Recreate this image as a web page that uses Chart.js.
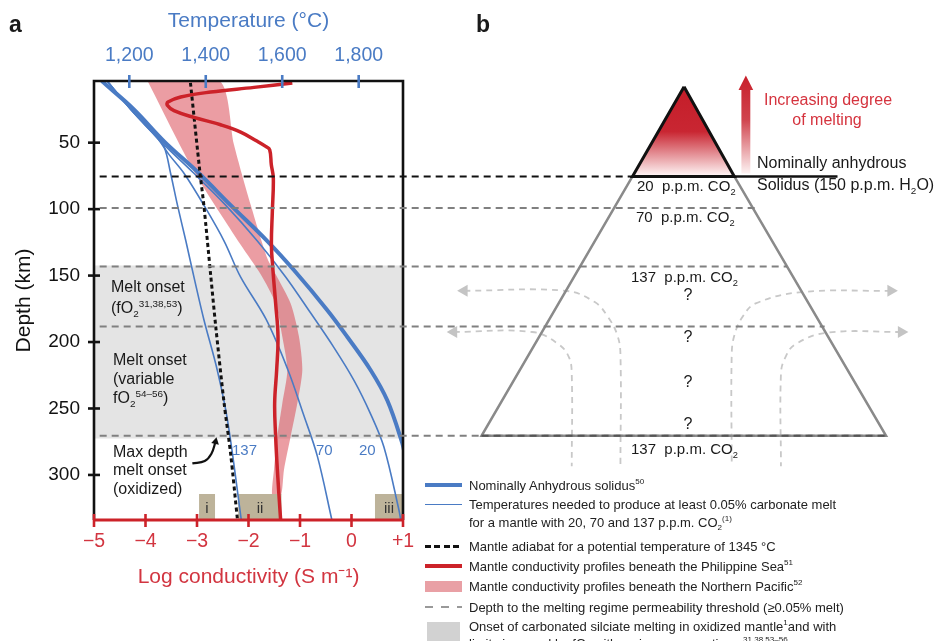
<!DOCTYPE html>
<html>
<head>
<meta charset="utf-8">
<script src="https://cdn.jsdelivr.net/npm/chart.js@4"></script>
<style>
body{margin:0;background:#fff;}
#wrap{position:relative;width:936px;height:641px;overflow:hidden;font-family:"Liberation Sans",Arial,Helvetica,sans-serif;color:#1a1a1a;}
canvas{position:absolute;left:0;top:0;}
.t{position:absolute;white-space:nowrap;transform:translateY(-50%);line-height:1;}
.c{transform:translate(-50%,-50%);}
.a{font-size:16px;}
.p{font-size:15px;}
.lg{font-size:13px;left:469px;color:#222;}
.sw{position:absolute;left:425px;width:37px;}
sup,sub{font-size:0.62em;line-height:0;}
</style>
</head>
<body>
<div id="wrap">
<canvas id="chartA" width="936" height="641"></canvas>
<canvas id="chartB" width="936" height="641"></canvas>

<div class="t" style="left:9px;top:24px;font-size:23px;font-weight:bold;">a</div>
<div class="t" style="left:476px;top:24px;font-size:23px;font-weight:bold;">b</div>

<!-- panel a annotations -->
<div class="t a" style="left:111px;top:287px;">Melt onset</div>
<div class="t a" style="left:111px;top:308px;">(fO<sub>2</sub><sup>31,38,53</sup>)</div>
<div class="t a" style="left:113px;top:360px;">Melt onset</div>
<div class="t a" style="left:113px;top:379px;">(variable</div>
<div class="t a" style="left:113px;top:398px;">fO<sub>2</sub><sup>54–56</sup>)</div>
<div class="t a" style="left:113px;top:452px;">Max depth</div>
<div class="t a" style="left:113px;top:470px;">melt onset</div>
<div class="t a" style="left:113px;top:489px;">(oxidized)</div>
<div class="t p" style="left:232px;top:449px;color:#4a7bc4;">137</div>
<div class="t p" style="left:316px;top:449px;color:#4a7bc4;">70</div>
<div class="t p" style="left:359px;top:449px;color:#4a7bc4;">20</div>
<div class="t c p" style="left:207px;top:507px;color:#333;">i</div>
<div class="t c p" style="left:260px;top:507px;color:#333;">ii</div>
<div class="t c p" style="left:389px;top:507px;color:#333;">iii</div>

<!-- panel b annotations -->
<div class="t c a" style="left:828px;top:100px;color:#d5333e;">Increasing degree</div>
<div class="t c a" style="left:827px;top:120px;color:#d5333e;">of melting</div>
<div class="t a" style="left:757px;top:163px;">Nominally anhydrous</div>
<div class="t a" style="left:757px;top:185px;">Solidus (150 p.p.m. H<sub>2</sub>O)</div>
<div class="t p" style="left:637px;top:185px;">20&nbsp; p.p.m. CO<sub>2</sub></div>
<div class="t p" style="left:636px;top:216px;">70&nbsp; p.p.m. CO<sub>2</sub></div>
<div class="t p" style="left:631px;top:276px;">137&nbsp; p.p.m. CO<sub>2</sub></div>
<div class="t c a" style="left:688px;top:295px;">?</div>
<div class="t c a" style="left:688px;top:337px;">?</div>
<div class="t c a" style="left:688px;top:382px;">?</div>
<div class="t c a" style="left:688px;top:424px;">?</div>
<div class="t p" style="left:631px;top:448px;">137&nbsp; p.p.m. CO<sub>2</sub></div>

<!-- legend -->
<div class="sw" style="top:483px;height:4px;background:#4a7bc4;"></div>
<div class="sw" style="top:503.5px;height:1.6px;background:#4a7bc4;"></div>
<div class="sw" style="top:544.5px;height:3px;background:repeating-linear-gradient(90deg,#111 0 6px,transparent 6px 9.5px);"></div>
<div class="sw" style="top:564px;height:4px;background:#cc2229;"></div>
<div class="sw" style="top:580.5px;height:11.5px;background:#e9a0a5;"></div>
<div class="sw" style="top:606px;height:1.6px;background:repeating-linear-gradient(90deg,#999 0 8px,transparent 8px 16px);"></div>
<div class="sw" style="top:621.5px;height:25px;left:427px;width:33px;background:#d2d2d2;"></div>
<div class="t lg" style="top:485px;">Nominally Anhydrous solidus<sup>50</sup></div>
<div class="t lg" style="top:504px;">Temperatures needed to produce at least 0.05% carbonate melt</div>
<div class="t lg" style="top:522px;">for a mantle with 20, 70 and 137 p.p.m. CO<sub>2</sub><sup>(1)</sup></div>
<div class="t lg" style="top:545.5px;">Mantle adiabat for a potential temperature of 1345 °C</div>
<div class="t lg" style="top:566px;">Mantle conductivity profiles beneath the Philippine Sea<sup>51</sup></div>
<div class="t lg" style="top:586px;">Mantle conductivity profiles beneath the Northern Pacific<sup>52</sup></div>
<div class="t lg" style="top:606.5px;">Depth to the melting regime permeability threshold (≥0.05% melt)</div>
<div class="t lg" style="top:626px;">Onset of carbonated silciate melting in oxidized mantle<sup>1</sup>and with</div>
<div class="t lg" style="top:643px;">limits imposed by fO<sub>2</sub> with various assumptions <sup>31,38,53–56</sup></div>
</div>

<script>
// axis ticks
const depthTicks = [50, 100, 150, 200, 250, 300];
const tempTicks = [1200, 1400, 1600, 1800];
const tempTickLabels = ['1,200', '1,400', '1,600', '1,800'];
const condTicks = [-5, -4, -3, -2, -1, 0, 1];
const condTickLabels = ['\u22125', '\u22124', '\u22123', '\u22122', '\u22121', '0', '+1'];

// panel a: temperatures (°C) vs depth (km)
const solidusTemp = [1128, 1212, 1291, 1382, 1465, 1561, 1631, 1718, 1770, 1831, 1875, 1914, 1921];
const solidusDepth = [3.6, 25, 49, 73, 97, 124, 146, 176, 196, 221, 244, 276, 285];
const co2_20Temp = [1142, 1204, 1282, 1369, 1452, 1535, 1609, 1674, 1735, 1788, 1831, 1866, 1905, 1910];
const co2_20Depth = [3.6, 25, 49, 73, 97, 124, 151, 178, 204, 229, 254, 279, 326, 334];
const co2_70Temp = [1142, 1204, 1273, 1304, 1343, 1395, 1448, 1491, 1558, 1615, 1655, 1692, 1730];
const co2_70Depth = [3.6, 25, 46.5, 59, 73, 97, 124, 151, 183, 221, 254, 286, 334];
const co2_137Temp = [1142, 1204, 1269, 1291, 1308, 1326, 1348, 1369, 1395, 1430, 1457, 1493];
const co2_137Depth = [3.6, 25, 45, 53, 73, 97, 124, 151, 183, 221, 259, 334];
const adiabatTemp = [1360, 1385, 1395, 1413, 1426, 1448, 1465, 1483];
const adiabatDepth = [5, 73, 97, 150, 188, 246, 284, 334];

// panel a: log conductivity vs depth
const philCond = [-1.149, -1.893, -2.735, -3.317, -3.563, -3.576, -3.447, -3.058, -2.541, -2.152, -1.829, -1.667, -1.589, -1.557, -1.518, -1.537, -1.555, -1.525, -1.473, -1.427, -1.453, -1.492, -1.473, -1.440, -1.376];
const philDepth = [5.1, 8.4, 11.9, 15.6, 19.4, 21.9, 25.9, 31.0, 36.5, 42.0, 49.0, 52.8, 55.3, 66.6, 76.6, 101.7, 126.8, 146, 171, 196, 221, 246, 271, 296, 334];
const pacLeftCond = [-3.96, -3.058, -2.152, -1.764, -1.473, -1.343, -1.246, -1.343, -1.440, -1.505, -1.537];
const pacLeftDepth = [3.6, 71.6, 126.8, 149, 171, 196, 221, 246, 271, 296, 316];
const pacRightCond = [-2.56, -2.282, -1.958, -1.635, -1.473, -1.182, -1.020, -0.955, -1.052, -1.182, -1.311, -1.376];
const pacRightDepth = [3.6, 51.5, 96.7, 137, 149, 171, 196, 221, 246, 271, 296, 316];
const meltOnsetDepth = [142.4, 272.5];
const boxCondLeft = [-2.96, -2.20, 0.456];
const boxCondRight = [-2.65, -1.36, 1];
const boxDepthTop = 314.3;
const pointerCond = [-3.09, -2.85, -2.72, -2.64];
const pointerDepth = [291.3, 289.5, 284, 275];

// panel b: schematic (horizontal units from ridge axis, depth km)
const thresholdDepths = [73, 97.4, 142.4, 188.5, 272.5];
const thresholdEndX = [-39.4, 54.7, 78.6, 107.4, 154.3];
const thresholdStartX = -446.4;
const meltTriX = [0, -39.4, 38.4, 0];
const meltTriDepth = [4.1, 73, 73, 4.1];
const regimeX = [-39.4, -154.7, 154.3, 38.4];
const regimeDepth = [73, 272.5, 272.5, 73];
const solidusLineX = [38.4, 117.2];
const arrowX = [43.8, 43.8, 41.6, 47.2, 52.8, 50.6, 50.6, 43.8];
const arrowDepth = [70.7, 6.6, 6.6, -4.7, 6.6, 6.6, 70.7, 70.7];
const flowUL_X = [-168, -90.7, -68.2, -58.2, -51, -48.6, -48.6];
const flowUL_D = [161, 161, 169.7, 181, 195, 210, 296];
const flowLL_X = [-176, -116, -96, -88, -85.8, -85.8];
const flowLL_D = [192.7, 192.7, 202, 212, 225, 296];
const flowUR_X = [158, 89.8, 54.7, 44.7, 38.5, 36.4, 36.4];
const flowUR_D = [161, 162, 170.7, 181, 195, 210, 296];
const flowLR_X = [166, 109.6, 84.8, 77, 74, 74];
const flowLR_D = [192.7, 193.2, 202.3, 213, 225, 296];

const BLUE = '#4a7bc4';
const RED = '#cc2229';
const RED_TXT = '#d23540';

const xy = (xs, ys) => xs.map((v, i) => ({x: v, y: ys[i]}));
const fixTicks = vals => scale => { scale.ticks = vals.map(v => ({value: v})); };

const bandPoly = xy([-5, 1, 1, -5, -5], [meltOnsetDepth[0], meltOnsetDepth[0], meltOnsetDepth[1], meltOnsetDepth[1], meltOnsetDepth[0]]);
const pacPoly = xy(pacLeftCond.concat(pacRightCond.slice().reverse(), [pacLeftCond[0]]),
  pacLeftDepth.concat(pacRightDepth.slice().reverse(), [pacLeftDepth[0]]));
const boxSets = boxCondLeft.map((l, i) => ({
  data: xy([l, boxCondRight[i], boxCondRight[i], l, l], [boxDepthTop, boxDepthTop, 340, 340, boxDepthTop]),
  xAxisID: 'x', fill: 'shape', backgroundColor: '#bdb39a', borderWidth: 0, order: 8
}));

const frame = {
  id: 'frame',
  afterDraw(chart) {
    const {ctx, chartArea: a, scales} = chart;
    ctx.save();
    ctx.lineWidth = 2.6;
    ctx.lineCap = 'butt';
    ctx.strokeStyle = '#111';
    ctx.beginPath();
    ctx.moveTo(a.left, a.bottom); ctx.lineTo(a.left, a.top);
    ctx.lineTo(a.right, a.top); ctx.lineTo(a.right, a.bottom);
    ctx.stroke();
    depthTicks.forEach(v => {
      const y = scales.y.getPixelForValue(v);
      ctx.beginPath(); ctx.moveTo(a.left - 6, y); ctx.lineTo(a.left + 6, y); ctx.stroke();
    });
    ctx.strokeStyle = BLUE;
    tempTicks.forEach(v => {
      const x = scales.xT.getPixelForValue(v);
      ctx.beginPath(); ctx.moveTo(x, a.top - 6); ctx.lineTo(x, a.top + 7); ctx.stroke();
    });
    ctx.strokeStyle = RED;
    ctx.lineWidth = 3;
    ctx.beginPath(); ctx.moveTo(a.left - 1, a.bottom); ctx.lineTo(a.right + 1, a.bottom); ctx.stroke();
    ctx.lineWidth = 2.6;
    condTicks.forEach(v => {
      const x = scales.x.getPixelForValue(v);
      ctx.beginPath(); ctx.moveTo(x, a.bottom - 6); ctx.lineTo(x, a.bottom + 7); ctx.stroke();
    });
    ctx.restore();
  }
};

new Chart(document.getElementById('chartA'), {
  type: 'scatter',
  data: {
    datasets: [
      {data: bandPoly, xAxisID: 'x', fill: 'shape', backgroundColor: '#e4e4e4', borderWidth: 0, order: 10},
      {data: pacPoly, xAxisID: 'x', fill: 'shape', backgroundColor: 'rgba(215,60,72,0.5)', borderWidth: 0, tension: 0.25, order: 9},
      ...boxSets,
      {data: xy(co2_137Temp, co2_137Depth), xAxisID: 'xT', borderColor: BLUE, borderWidth: 1.6, tension: 0.35, order: 6},
      {data: xy(co2_70Temp, co2_70Depth), xAxisID: 'xT', borderColor: BLUE, borderWidth: 1.6, tension: 0.35, order: 6},
      {data: xy(co2_20Temp, co2_20Depth), xAxisID: 'xT', borderColor: BLUE, borderWidth: 1.6, tension: 0.35, order: 6},
      {data: xy(solidusTemp, solidusDepth), xAxisID: 'xT', borderColor: BLUE, borderWidth: 4, tension: 0.35, order: 5},
      {data: xy(adiabatTemp, adiabatDepth), xAxisID: 'xT', borderColor: '#111', borderWidth: 3, borderDash: [4, 3], tension: 0.3, order: 4},
      {data: xy(philCond, philDepth), xAxisID: 'x', borderColor: RED, borderWidth: 3.5, tension: 0.4, order: 3},
      {data: xy(pointerCond, pointerDepth), xAxisID: 'x', borderColor: '#111', borderWidth: 2.2, tension: 0.4, order: 2,
        pointRadius: c => c.dataIndex === pointerCond.length - 1 ? 4.5 : 0, pointStyle: 'triangle', pointRotation: 12,
        pointBackgroundColor: '#111', pointBorderWidth: 0}
    ]
  },
  options: {
    responsive: false,
    animation: false,
    events: [],
    showLine: true,
    layout: {padding: {left: 0, top: 0, right: 533, bottom: 0}},
    elements: {point: {radius: 0}, line: {fill: false}},
    plugins: {legend: {display: false}, tooltip: {enabled: false}},
    scales: {
      y: {
        type: 'linear', position: 'left', reverse: true, min: 3.6, max: 333.9,
        afterBuildTicks: fixTicks(depthTicks),
        afterFit: s => { s.width = 94; },
        grid: {display: false, drawTicks: false}, border: {display: false},
        ticks: {color: '#111', font: {size: 19}, padding: 14},
        title: {display: true, text: 'Depth (km)', color: '#111', font: {size: 21}, padding: {top: 12, bottom: 0}}
      },
      xT: {
        type: 'linear', position: 'top', min: 1107.7, max: 1915.9,
        afterBuildTicks: fixTicks(tempTicks),
        afterFit: s => { s.height = 81; },
        grid: {display: false, drawTicks: false}, border: {display: false},
        ticks: {color: BLUE, font: {size: 19.5}, padding: 14, maxRotation: 0, autoSkip: false,
          callback: v => tempTickLabels[tempTicks.indexOf(v)]},
        title: {display: true, text: 'Temperature (°C)', color: BLUE, font: {size: 21}, padding: {top: 9, bottom: 0}}
      },
      x: {
        type: 'linear', position: 'bottom', min: -5, max: 1,
        afterBuildTicks: fixTicks(condTicks),
        afterFit: s => { s.height = 121; },
        grid: {display: false, drawTicks: false}, border: {display: false},
        ticks: {color: RED_TXT, font: {size: 19.5}, padding: 10, maxRotation: 0, autoSkip: false,
          callback: v => condTickLabels[condTicks.indexOf(v)]},
        title: {display: true, text: 'Log conductivity (S m\u207B\u00B9)', color: RED_TXT, font: {size: 21}, padding: {top: 0, bottom: 51}}
      }
    }
  },
  plugins: [frame]
});

// panel b
function vGrad(chart, d0, d1, stops) {
  const y = chart.scales.y;
  const p0 = y ? y.getPixelForValue(d0) : NaN;
  const p1 = y ? y.getPixelForValue(d1) : NaN;
  if (!isFinite(p0) || !isFinite(p1) || p0 === p1) return stops[1][1];
  const g = chart.ctx.createLinearGradient(0, p0, 0, p1);
  stops.forEach(s => g.addColorStop(s[0], s[1]));
  return g;
}

const thresholdSets = thresholdDepths.map((d, i) => ({
  data: xy([thresholdStartX, thresholdEndX[i]], [d, d]),
  borderColor: i === 0 ? '#111' : '#808080', borderWidth: 2, borderDash: [7, 5], order: 3
}));
const flowSet = (xs, ds, rot) => ({
  data: xy(xs, ds), borderColor: '#c8c8c8', borderWidth: 1.8, borderDash: [6, 5], tension: 0.4, order: 6,
  pointRadius: c => c.dataIndex === 0 ? 7 : 0, pointStyle: 'triangle', pointRotation: rot,
  pointBackgroundColor: '#c4c4c4', pointBorderWidth: 0
});

new Chart(document.getElementById('chartB'), {
  type: 'scatter',
  data: {
    datasets: [
      flowSet(flowUL_X, flowUL_D, 270),
      flowSet(flowLL_X, flowLL_D, 270),
      flowSet(flowUR_X, flowUR_D, 90),
      flowSet(flowLR_X, flowLR_D, 90),
      {data: xy(regimeX, regimeDepth), borderColor: '#8a8a8a', borderWidth: 2.5, order: 5},
      ...thresholdSets,
      {data: xy([regimeX[1], regimeX[2]], [regimeDepth[1], regimeDepth[2]]), borderColor: '#555', borderWidth: 2, borderDash: [7, 5], order: 2},
      {data: xy(meltTriX, meltTriDepth), fill: 'shape', borderColor: '#111', borderWidth: 3, order: 1,
        backgroundColor: c => vGrad(c.chart, meltTriDepth[0], meltTriDepth[1], [[0, '#c41d29'], [0.5, '#c92632'], [1, '#fff8f8']])},
      {data: xy(solidusLineX, [thresholdDepths[0], thresholdDepths[0]]), borderColor: '#111', borderWidth: 2.5, order: 1},
      {data: xy(arrowX, arrowDepth), fill: 'shape', borderWidth: 0, order: 1,
        backgroundColor: c => vGrad(c.chart, -4.7, 70.7, [[0, '#c8202b'], [0.45, '#d0434d'], [1, '#fdf2f2']])}
    ]
  },
  options: {
    responsive: false,
    animation: false,
    events: [],
    showLine: true,
    layout: {padding: 0},
    elements: {point: {radius: 0}, line: {fill: false}},
    plugins: {legend: {display: false}, tooltip: {enabled: false}},
    scales: {
      x: {type: 'linear', display: false, min: -517.2, max: 187.1},
      y: {type: 'linear', display: false, reverse: true, min: -57.3, max: 425.0}
    }
  }
});
</script>
</body>
</html>
